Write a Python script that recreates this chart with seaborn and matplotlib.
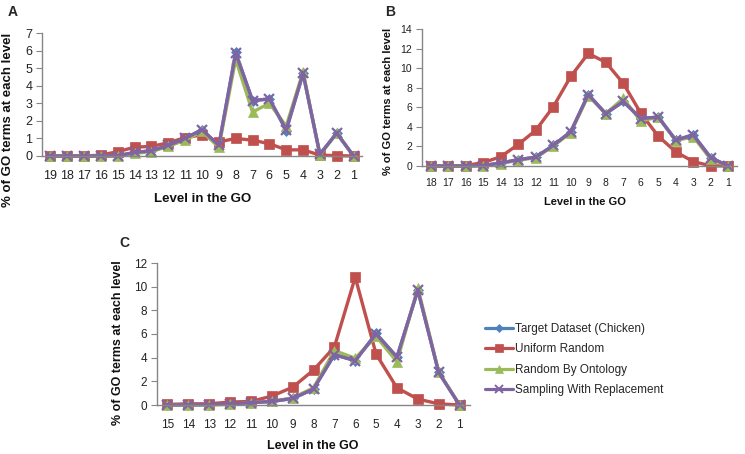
import numpy as np
import pandas as pd
import matplotlib
matplotlib.use("Agg")
import matplotlib.pyplot as plt
from matplotlib.lines import Line2D
import seaborn as sns

sns.set_style("white")
plt.rcParams['font.family'] = ['Liberation Sans', 'DejaVu Sans']

series_names = ["Target Dataset (Chicken)", "Uniform Random",
                "Random By Ontology", "Sampling With Replacement"]

# Panel A
levels_a = [19, 18, 17, 16, 15, 14, 13, 12, 11, 10, 9, 8, 7, 6, 5, 4, 3, 2, 1]
target_a = [0, 0, 0, 0, 0.02, 0.2, 0.3, 0.6, 1.0, 1.5, 0.6, 5.9, 3.15, 3.25, 1.45, 4.7, 0.1, 1.3, 0]
uniform_a = [0, 0, 0, 0.05, 0.25, 0.5, 0.55, 0.75, 1.05, 1.2, 0.8, 1.0, 0.9, 0.7, 0.35, 0.35, 0.05, 0.02, 0]
ontology_a = [0, 0, 0, 0, 0, 0.15, 0.25, 0.55, 0.9, 1.4, 0.5, 5.5, 2.5, 3.0, 1.7, 4.8, 0.05, 1.3, 0]
sampling_a = [0, 0, 0, 0, 0.02, 0.2, 0.3, 0.6, 1.0, 1.5, 0.6, 5.85, 3.15, 3.25, 1.5, 4.7, 0.1, 1.3, 0]

# Panel B
levels_b = [18, 17, 16, 15, 14, 13, 12, 11, 10, 9, 8, 7, 6, 5, 4, 3, 2, 1]
target_b = [0, 0, 0, 0.05, 0.3, 0.65, 0.9, 2.1, 3.5, 7.3, 5.35, 6.6, 4.85, 5.0, 2.65, 3.2, 0.85, 0]
uniform_b = [0, 0, 0.05, 0.35, 0.95, 2.2, 3.65, 6.05, 9.15, 11.5, 10.6, 8.45, 5.4, 3.05, 1.45, 0.45, 0.02, 0]
ontology_b = [0, 0, 0, 0.05, 0.25, 0.6, 0.85, 2.05, 3.4, 7.2, 5.35, 6.9, 4.6, 5.0, 2.6, 3.0, 0.7, 0]
sampling_b = [0, 0, 0, 0.05, 0.3, 0.65, 0.9, 2.1, 3.5, 7.3, 5.35, 6.6, 4.85, 5.0, 2.65, 3.15, 0.85, 0]

# Panel C
levels_c = [15, 14, 13, 12, 11, 10, 9, 8, 7, 6, 5, 4, 3, 2, 1]
target_c = [0, 0.02, 0.03, 0.1, 0.2, 0.3, 0.55, 1.35, 4.25, 3.75, 6.05, 4.05, 9.7, 2.75, 0]
uniform_c = [0.05, 0.1, 0.1, 0.25, 0.3, 0.75, 1.5, 2.95, 4.9, 10.8, 4.3, 1.45, 0.5, 0.1, 0]
ontology_c = [0, 0, 0, 0.05, 0.2, 0.3, 0.6, 1.45, 4.6, 3.95, 5.8, 3.65, 9.9, 2.8, 0]
sampling_c = [0, 0.02, 0.03, 0.1, 0.2, 0.3, 0.55, 1.35, 4.25, 3.75, 6.0, 4.05, 9.7, 2.75, 0]

colors = ["#4F81BD", "#C0504D", "#9BBB59", "#8064A2"]
markers = ["D", "s", "^", "x"]
msizes = [5, 7, 7, 7]

W, H = 745, 454
fig = plt.figure(figsize=(W / 100, H / 100), dpi=100)


def fx(px):
    return px / W


def fy(py):
    return 1 - py / H


def ax_at(l, t, r, b):
    return fig.add_axes([l / W, 1 - b / H, (r - l) / W, (b - t) / H])


def draw(ax, levels, data, ymax, ystep, tick_fs, tick_pad):
    n = len(levels)
    pos = np.arange(n)
    for i, (name, vals) in enumerate(zip(series_names, data)):
        df = pd.DataFrame({"pos": pos, "val": vals})
        sns.lineplot(data=df, x="pos", y="val", ax=ax, color=colors[i],
                     marker=markers[i], markersize=msizes[i],
                     markeredgecolor=colors[i],
                     markeredgewidth=1.6 if markers[i] == "x" else 0.5,
                     linewidth=2.4, clip_on=False, legend=False, sort=False)
    ax.set_xlim(-0.5, n - 0.5)
    ax.set_ylim(0, ymax)
    ax.set_xticks(pos)
    ax.set_xticklabels([str(v) for v in levels], fontsize=tick_fs, color="#222222")
    ax.set_xticks(np.arange(n + 1) - 0.5, minor=True)
    ax.tick_params(axis="x", which="major", length=0, pad=tick_pad)
    ax.tick_params(axis="x", which="minor", length=4, color="#868686", direction="out")
    yt = np.arange(0, ymax + 0.01, ystep)
    ax.set_yticks(yt)
    ax.set_yticklabels([f"{v:g}" for v in yt], fontsize=tick_fs, color="#222222")
    ax.tick_params(axis="y", length=4, color="#868686", direction="out", left=True, pad=3)
    for s in ["top", "right"]:
        ax.spines[s].set_visible(False)
    for s in ["left", "bottom"]:
        ax.spines[s].set_color("#868686")
        ax.spines[s].set_linewidth(1.0)
    ax.set_xlabel("")
    ax.set_ylabel("")
    ax.patch.set_alpha(0)


axA = ax_at(42, 33, 362, 156)
draw(axA, levels_a, [target_a, uniform_a, ontology_a, sampling_a], 7, 1, 9, 10)
axB = ax_at(422, 29, 737, 166)
draw(axB, levels_b, [target_b, uniform_b, ontology_b, sampling_b], 14, 2, 7.5, 8.5)
axC = ax_at(157, 263, 470, 405)
draw(axC, levels_c, [target_c, uniform_c, ontology_c, sampling_c], 12, 2, 8.5, 10)

ylab = "% of GO terms at each level"
xlab = "Level in the GO"
for (x, y, fs) in [(8, 120, 9.5), (388, 101, 8), (118, 343, 9)]:
    fig.text(fx(x), fy(y), ylab, rotation=90, fontsize=fs, fontweight="bold",
             ha="center", va="center", color="#111111")
for (x, y, fs) in [(203, 199, 9.5), (585, 202, 8), (313, 446, 9)]:
    fig.text(fx(x), fy(y), xlab, fontsize=fs, fontweight="bold",
             ha="center", va="center", color="#111111")

fig.text(fx(13), fy(12), "A", fontsize=10, fontweight="bold", ha="center", va="center")
fig.text(fx(390), fy(12), "B", fontsize=10, fontweight="bold", ha="center", va="center")
fig.text(fx(124), fy(243), "C", fontsize=10, fontweight="bold", ha="center", va="center")

handles = [Line2D([0], [0], color=colors[i], marker=markers[i], markersize=msizes[i] * 0.8,
                  markeredgecolor=colors[i],
                  markeredgewidth=1.4 if markers[i] == "x" else 0.5, linewidth=2.3)
           for i in range(4)]
fig.legend(handles, series_names, loc="upper left", bbox_to_anchor=(fx(485), fy(323)),
           frameon=False, fontsize=8.5, handlelength=2.4, handletextpad=0.15,
           labelspacing=0.72, borderaxespad=0, borderpad=0)

fig.savefig("out.png", dpi=100)
